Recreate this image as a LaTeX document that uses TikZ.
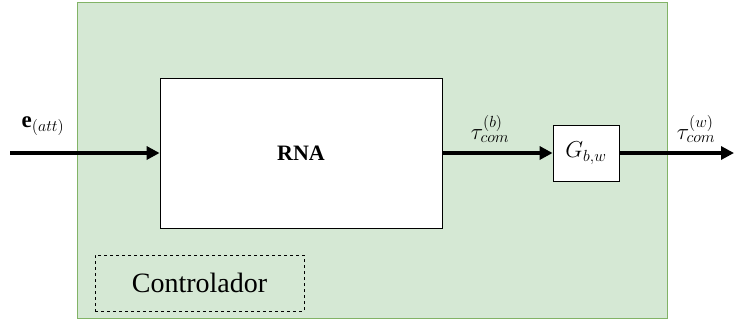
\RequirePackage{fix-cm}
\documentclass[tikz,border=0pt]{standalone}
\usepackage{amsmath,amssymb}
\usepackage{fontspec}
\setmainfont{Liberation Serif}
\usepackage{tikz}
\usetikzlibrary{positioning, arrows.meta}
\usepackage{xcolor}
\definecolor{ctrlfill}{HTML}{D5E8D4}
\definecolor{ctrlline}{HTML}{82B366}

\begin{document}
\begin{tikzpicture}[x=1pt, y=1pt,
		block/.style={draw, fill=white, line width=0.8pt, inner sep=0pt},
		signal/.style={line width=3.2pt, -{Triangle[length=13pt, width=13pt]}},
		sig label/.style={font=\fontsize{23}{26}\selectfont}]
				\useasboundingbox (0,0) rectangle (734,-322);
				\node[draw=ctrlline, fill=ctrlfill, line width=1pt, minimum width=590pt, minimum height=316pt] (ctrl) at (372,-160) {};
				\node[block, minimum width=282pt, minimum height=150pt, font=\fontsize{22}{26}\selectfont\bfseries] (rna) at (301,-153) {RNA};
				\node[block, minimum width=66pt, minimum height=56pt, font=\fontsize{23}{26}\selectfont] (gbw) at (586,-153) {$G_{b,w}$};
				\node[draw, dashed, line width=0.8pt, minimum width=209pt, minimum height=56pt, font=\fontsize{28}{32}\selectfont] (name) at (199.5,-283) {Controlador};
				
				\coordinate (in) at (10,-153);
				\coordinate (out) at (734,-153);
				\draw[signal] (in) -- (rna.west);
				\draw[signal] (rna.east) -- (gbw.west);
				\draw[signal] (gbw.east) -- (out);
				
				\node[sig label] (eatt) at (43,-126) {$\mathbf{e}_{(att)}$};
				\node[sig label] (taub) at (490,-129) {$\tau_{com}^{(b)}$};
				\node[sig label] (tauw) at (696,-129) {$\tau_{com}^{(w)}$};
			\end{tikzpicture}
\end{document}
